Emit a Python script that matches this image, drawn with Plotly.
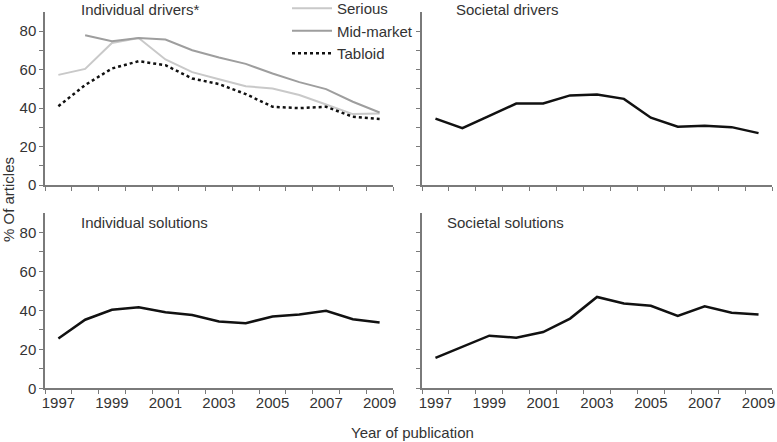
import plotly.graph_objects as go

years = list(range(1997, 2010))

serious = [57.3, 60.4, 73.9, 76.5, 65.3, 58.7, 55.0, 51.4, 50.2, 46.8, 41.9, 36.9, 37.2]
mid_market = [None, 77.9, 74.8, 76.5, 75.7, 70.1, 66.3, 63.0, 58.0, 53.5, 49.9, 43.3, 37.7]
tabloid = [41.0, 52.0, 60.6, 64.4, 62.3, 55.4, 52.5, 47.3, 40.7, 40.0, 40.7, 35.5, 34.3]
societal_drivers = [34.5, 29.6, 36.0, 42.4, 42.4, 46.6, 47.1, 44.8, 35.0, 30.3, 30.8, 30.1, 27.0]
individual_solutions = [25.6, 35.2, 40.3, 41.6, 39.0, 37.6, 34.3, 33.4, 36.9, 37.9, 39.8, 35.5, 33.8]
societal_solutions = [15.6, 21.1, 27.0, 26.0, 28.9, 35.8, 46.9, 43.5, 42.4, 37.1, 42.1, 38.8, 37.9]

panel_titles = ["Individual drivers*", "Societal drivers", "Individual solutions", "Societal solutions"]
year_labels = [str(y) for y in range(1997, 2010, 2)]
y_tickvals = list(range(0, 90, 10))
y_ticktext = [str(v) if v % 20 == 0 else "" for v in y_tickvals]

W, H = 777, 442
FONT = "Liberation Sans, Arial, sans-serif"
TXT = "#333333"
AX = "#7a7a7a"

fig = go.Figure()

fig.add_trace(go.Scatter(x=years, y=serious, name="Serious", mode="lines",
                         line=dict(color="#c9c9c9", width=2), xaxis="x", yaxis="y"))
fig.add_trace(go.Scatter(x=years, y=mid_market, name="Mid-market", mode="lines",
                         line=dict(color="#9e9e9e", width=2), xaxis="x", yaxis="y"))
fig.add_trace(go.Scatter(x=years, y=tabloid, name="Tabloid", mode="lines",
                         line=dict(color="#111111", width=2.5, dash="3px,3px"), xaxis="x", yaxis="y"))
fig.add_trace(go.Scatter(x=years, y=societal_drivers, mode="lines", showlegend=False,
                         line=dict(color="#111111", width=2.5), xaxis="x2", yaxis="y2"))
fig.add_trace(go.Scatter(x=years, y=individual_solutions, mode="lines", showlegend=False,
                         line=dict(color="#111111", width=2.5), xaxis="x3", yaxis="y3"))
fig.add_trace(go.Scatter(x=years, y=societal_solutions, mode="lines", showlegend=False,
                         line=dict(color="#111111", width=2.5), xaxis="x4", yaxis="y4"))

left_dom = [45 / W, 393 / W]
right_dom = [422 / W, 772 / W]
top_dom = [(H - 185) / H, (H - 12) / H]
bot_dom = [(H - 388.3) / H, (H - 213) / H]

boundaries = [y - 0.5 for y in range(1997, 2011)]


def xaxis(dom, anchor, labels):
    return dict(domain=dom, anchor=anchor, range=[1996.5, 2009.5], showgrid=False, zeroline=False,
                showline=True, linecolor=AX, linewidth=1.5, automargin=False,
                tickvals=[int(t) for t in year_labels], ticktext=year_labels,
                ticks="", showticklabels=labels,
                tickfont=dict(family=FONT, size=15, color=TXT),
                minor=dict(tickvals=boundaries, ticks="outside", ticklen=4, tickcolor=AX, tickwidth=1))


def yaxis(dom, anchor, labels):
    return dict(domain=dom, anchor=anchor, range=[0, 90], showgrid=False, zeroline=False,
                showline=True, linecolor=AX, linewidth=1.5, automargin=False,
                tickvals=y_tickvals, ticktext=y_ticktext, ticks="outside", ticklen=4,
                tickcolor=AX, showticklabels=labels,
                tickfont=dict(family=FONT, size=15, color=TXT))


annotations = [
    dict(text=panel_titles[0], x=79 / W, y=(H - 9) / H),
    dict(text=panel_titles[1], x=454 / W, y=(H - 9) / H),
    dict(text=panel_titles[2], x=79 / W, y=(H - 222) / H),
    dict(text=panel_titles[3], x=445 / W, y=(H - 222) / H),
]
for a in annotations:
    a.update(xref="paper", yref="paper", xanchor="left", yanchor="middle", showarrow=False,
             font=dict(family=FONT, size=15, color=TXT))
annotations.append(dict(text="% Of articles", x=9 / W, y=(H - 200) / H, xref="paper", yref="paper",
                        textangle=-90, showarrow=False, xanchor="center", yanchor="middle",
                        font=dict(family=FONT, size=15, color=TXT)))
annotations.append(dict(text="Year of publication", x=412 / W, y=(H - 432) / H, xref="paper", yref="paper",
                        showarrow=False, xanchor="center", yanchor="middle",
                        font=dict(family=FONT, size=15, color=TXT)))

fig.update_layout(
    width=W, height=H, margin=dict(l=0, r=0, t=0, b=0, autoexpand=False),
    paper_bgcolor="white", plot_bgcolor="white",
    xaxis=xaxis(left_dom, "y", False), yaxis=yaxis(top_dom, "x", True),
    xaxis2=xaxis(right_dom, "y2", False), yaxis2=yaxis(top_dom, "x2", False),
    xaxis3=xaxis(left_dom, "y3", True), yaxis3=yaxis(bot_dom, "x3", True),
    xaxis4=xaxis(right_dom, "y4", True), yaxis4=yaxis(bot_dom, "x4", False),
    annotations=annotations,
    legend=dict(x=287 / W, y=1 + 8 / H, xanchor="left", yanchor="top", bgcolor="rgba(0,0,0,0)",
                font=dict(family=FONT, size=15, color=TXT), itemwidth=40, tracegroupgap=0),
    showlegend=True,
)

fig.write_html("out.html", config=dict(displayModeBar=False),
               post_script="document.body.style.margin='0';document.body.style.overflow='hidden';")
